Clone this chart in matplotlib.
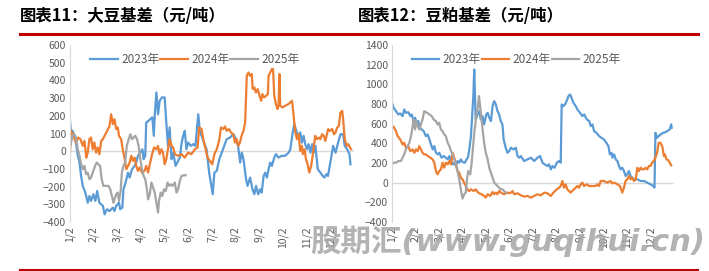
import matplotlib.pyplot as plt
from matplotlib.lines import Line2D

plt.rcParams['font.family'] = ['Noto Sans CJK SC', 'DejaVu Sans']

# x positions are in "months": 1 = 1/2, 2 = 2/2, ... 12 = 12/2
months = list(range(1, 13))
month_labels = [f'{m}/2' for m in months]
years = ['2023年', '2024年', '2025年']
colors = ['#5B9BD5', '#ED7D31', '#A5A5A5']

# ---- 大豆基差 (soybean basis) ----
soy_2023_x = [1.00, 1.04, 1.11, 1.23, 1.33, 1.40, 1.47, 1.54, 1.65, 1.75, 1.82, 1.89, 1.99, 2.07, 2.15,
              2.24, 2.39, 2.46, 2.56, 2.67, 2.81, 2.88, 2.95, 3.07, 3.12, 3.21, 3.26, 3.35, 3.45, 3.52,
              3.62, 3.73, 3.80, 3.87, 3.97, 4.06, 4.11, 4.18, 4.22, 4.32, 4.39, 4.48, 4.54, 4.58, 4.65,
              4.72, 4.79, 4.89, 5.00, 5.07, 5.14, 5.21, 5.29, 5.36, 5.46, 5.57, 5.64, 5.71, 5.78, 5.85,
              5.92, 5.99, 6.11, 6.21, 6.30, 6.42, 6.49, 6.56, 6.66, 6.77, 6.88, 6.95, 7.03, 7.10, 7.20,
              7.31, 7.41, 7.51, 7.62, 7.76, 7.90, 8.02, 8.10, 8.19, 8.26, 8.33, 8.44, 8.50, 8.61, 8.71,
              8.79, 8.86, 8.95, 9.03, 9.10, 9.18, 9.25, 9.32, 9.39, 9.46, 9.53, 9.63, 9.70, 9.81, 9.95,
              10.09, 10.24, 10.31, 10.41, 10.48, 10.56, 10.63, 10.73, 10.80, 10.87, 10.94, 11.01, 11.08,
              11.16, 11.23, 11.30, 11.37, 11.47, 11.58, 11.68, 11.75, 11.83, 11.90, 12.00, 12.12, 12.22,
              12.33, 12.43, 12.54, 12.61, 12.71, 12.81, 12.85]
soy_2023_y = [172, 106, 115, 68, -26, -64, -140, -196, -234, -291, -253, -281, -243, -281, -225,
              -291, -309, -357, -328, -338, -319, -338, -309, -291, -328, -319, -215, -177, -121, -149,
              -102, -83, -64, -26, -8, 11, -45, -26, 162, 172, 181, 191, 87, 200, 332,
              209, 285, 304, 304, 162, 30, 134, -45, -8, -83, -55, -36, 40, 87, 115,
              11, 49, 30, 40, 30, 209, 106, 87, 49, 11, -121, -177, -243, -121, -111,
              -45, -8, 30, 68, 77, 96, 68, 30, -64, -8, -45, -158, -196, -149, -215,
              -243, -196, -243, -215, -234, -140, -121, -149, -102, -64, -83, -36, -17, -36, -26,
              -26, -8, 11, 106, 153, 115, 87, 106, 49, 87, 40, 11, 40,
              -8, 40, -8, 30, -102, -121, -140, -149, -130, -140, -64, 30, -8,
              49, 96, 96, 30, 11, -17, -74]

soy_2024_x = [1.00, 1.04, 1.14, 1.25, 1.35, 1.44, 1.54, 1.61, 1.69, 1.75, 1.82, 1.89, 1.96, 2.03, 2.10,
              2.17, 2.24, 2.32, 2.39, 2.46, 2.57, 2.67, 2.74, 2.81, 2.88, 2.95, 3.02, 3.07, 3.16, 3.23,
              3.31, 3.38, 3.45, 3.52, 3.59, 3.66, 3.73, 3.80, 3.87, 3.94, 4.04, 4.15, 4.22, 4.30, 4.37,
              4.47, 4.55, 4.65, 4.72, 4.79, 4.86, 4.93, 5.00, 5.07, 5.14, 5.21, 5.29, 5.36, 5.43, 5.57,
              5.71, 5.85, 5.99, 6.13, 6.28, 6.39, 6.46, 6.56, 6.63, 6.70, 6.81, 6.91, 7.01, 7.10, 7.20,
              7.30, 7.38, 7.48, 7.55, 7.62, 7.72, 7.80, 7.90, 7.97, 8.04, 8.11, 8.18, 8.25, 8.33, 8.40,
              8.47, 8.54, 8.61, 8.68, 8.72, 8.79, 8.85, 8.93, 9.01, 9.08, 9.13, 9.20, 9.29, 9.36, 9.39,
              9.46, 9.53, 9.58, 9.63, 9.70, 9.77, 9.81, 9.85, 9.88, 9.98, 10.09, 10.23, 10.38, 10.45,
              10.52, 10.59, 10.66, 10.73, 10.80, 10.84, 10.91, 10.97, 11.04, 11.11, 11.19, 11.27, 11.36,
              11.44, 11.51, 11.58, 11.65, 11.72, 11.79, 11.91, 11.98, 12.08, 12.15, 12.22, 12.29, 12.36,
              12.43, 12.50, 12.54, 12.61, 12.69, 12.76, 12.83, 12.88]
soy_2024_y = [-8, 115, 87, 49, 77, 68, 30, 58, -36, -8, 68, 77, 11, 49, -8,
              21, -17, 58, 68, 87, 115, 143, 209, 153, 181, 125, 134, 87, 68, 11,
              -45, -102, -83, -64, -26, -55, -36, -83, -111, -92, -121, -111, -83, -121, -74,
              -17, 21, 11, 30, -17, 11, -8, -74, -45, 11, 68, 30, 21, -17, -26,
              -17, -36, -8, -17, 11, 21, 134, 125, 68, 30, -36, -55, -74, -17, 11,
              58, 134, 125, 140, 115, 125, 106, 96, 49, 68, 30, 49, 87, 115, 162,
              426, 445, 426, 436, 351, 360, 332, 351, 313, 285, 323, 304, 313, 323, 426,
              445, 464, 464, 313, 266, 238, 257, 436, 257, 247, 257, 266, 285, 200,
              106, 68, 96, 2, 30, -17, 11, -45, -74, -121, -83, -8, 87,
              68, 77, 68, 96, 87, 58, 125, 115, 125, 96, 106, 134, 143,
              219, 228, 181, 68, 30, 40, 21, 11]

soy_2025_x = [1.01, 1.11, 1.18, 1.25, 1.33, 1.40, 1.47, 1.54, 1.61, 1.68, 1.75, 1.82, 1.89, 1.96, 2.06,
              2.13, 2.20, 2.27, 2.34, 2.41, 2.49, 2.56, 2.63, 2.70, 2.77, 2.84, 2.88, 2.95, 3.02, 3.07,
              3.14, 3.19, 3.26, 3.33, 3.40, 3.48, 3.55, 3.62, 3.69, 3.76, 3.83, 3.90, 3.97, 4.04, 4.11,
              4.18, 4.25, 4.30, 4.37, 4.44, 4.51, 4.58, 4.65, 4.72, 4.76, 4.83, 4.90, 4.97, 5.05, 5.12,
              5.19, 5.26, 5.33, 5.43, 5.50, 5.57, 5.64, 5.71, 5.82, 5.89]
soy_2025_y = [30, 87, 96, 77, 11, -26, -74, -102, -83, -130, -121, -158, -149, -121, -83,
              -64, -74, -83, -158, -196, -196, -196, -196, -215, -253, -291, -272, -243, -234, -281,
              -225, -121, -83, -64, 30, 68, 96, 68, 77, 87, 68, 30, -45, -102, -140,
              -158, -215, -272, -243, -177, -205, -234, -291, -347, -281, -234, -253, -215, -225, -177,
              -196, -187, -196, -177, -234, -215, -168, -140, -136, -136]

# ---- 豆粕基差 (soybean meal basis) ----
meal_2023_x = [1.00, 1.07, 1.17, 1.27, 1.35, 1.45, 1.52, 1.59, 1.69, 1.78, 1.84, 1.92, 1.98, 2.06, 2.12,
               2.18, 2.26, 2.35, 2.44, 2.52, 2.59, 2.66, 2.73, 2.80, 2.87, 2.94, 3.01, 3.11, 3.20, 3.29,
               3.37, 3.44, 3.51, 3.58, 3.65, 3.72, 3.79, 3.86, 3.93, 4.00, 4.10, 4.17, 4.23, 4.29, 4.36,
               4.41, 4.46, 4.50, 4.56, 4.64, 4.71, 4.78, 4.85, 4.92, 5.01, 5.07, 5.14, 5.21, 5.28, 5.35,
               5.42, 5.49, 5.56, 5.63, 5.70, 5.75, 5.84, 5.91, 5.99, 6.06, 6.17, 6.27, 6.34, 6.41, 6.48,
               6.62, 6.76, 6.91, 7.05, 7.19, 7.30, 7.40, 7.50, 7.61, 7.68, 7.76, 7.83, 7.92, 8.01, 8.11,
               8.18, 8.22, 8.29, 8.36, 8.43, 8.51, 8.58, 8.64, 8.72, 8.82, 8.89, 9.00, 9.10, 9.18, 9.29,
               9.39, 9.46, 9.53, 9.60, 9.70, 9.81, 9.91, 10.02, 10.12, 10.21, 10.27, 10.34, 10.38, 10.45,
               10.52, 10.59, 10.66, 10.73, 10.80, 10.87, 10.94, 11.01, 11.08, 11.15, 11.22, 11.30, 11.44,
               11.58, 11.72, 11.86, 12.00, 12.12, 12.17, 12.21, 12.28, 12.35, 12.42, 12.54, 12.64, 12.71,
               12.82, 12.88, 12.90]
meal_2023_y = [812, 761, 727, 694, 704, 677, 744, 710, 717, 677, 694, 626, 660, 609, 626,
               558, 541, 524, 474, 490, 440, 389, 338, 372, 304, 288, 304, 254, 271, 254,
               237, 271, 220, 186, 203, 169, 220, 203, 237, 210, 203, 237, 254, 338, 474,
               677, 880, 1150, 643, 694, 727, 643, 677, 592, 694, 710, 660, 626, 778, 829,
               795, 727, 694, 626, 592, 440, 355, 304, 321, 355, 338, 355, 271, 254, 271,
               220, 237, 254, 220, 254, 271, 203, 186, 169, 186, 135, 169, 152, 203, 220,
               203, 795, 778, 795, 829, 880, 897, 863, 812, 778, 744, 710, 677, 694, 643,
               626, 575, 592, 524, 507, 474, 457, 440, 406, 372, 288, 304, 254, 288,
               237, 220, 169, 135, 152, 118, 68, 85, 118, 68, 51, 34, 34,
               17, 17, 0, -17, -34, -51, 507, 457, 474, 490, 507, 514, 524,
               541, 592, 558]

meal_2024_x = [1.00, 1.07, 1.17, 1.24, 1.35, 1.45, 1.52, 1.59, 1.69, 1.78, 1.88, 1.95, 2.02, 2.09, 2.16,
               2.23, 2.30, 2.37, 2.44, 2.52, 2.63, 2.73, 2.80, 2.87, 2.94, 3.01, 3.08, 3.15, 3.22, 3.29,
               3.37, 3.44, 3.51, 3.58, 3.65, 3.72, 3.79, 3.86, 3.93, 4.00, 4.07, 4.14, 4.22, 4.29, 4.36,
               4.47, 4.57, 4.64, 4.71, 4.81, 4.92, 4.99, 5.07, 5.18, 5.28, 5.35, 5.42, 5.49, 5.56, 5.63,
               5.77, 5.91, 6.03, 6.13, 6.20, 6.34, 6.48, 6.62, 6.76, 6.91, 7.05, 7.19, 7.34, 7.48, 7.61,
               7.76, 7.87, 8.01, 8.11, 8.18, 8.25, 8.32, 8.39, 8.46, 8.53, 8.60, 8.67, 8.75, 8.82, 8.89,
               8.96, 9.03, 9.10, 9.17, 9.29, 9.39, 9.53, 9.67, 9.74, 9.81, 9.88, 10.02, 10.16, 10.30,
               10.37, 10.47, 10.59, 10.70, 10.80, 10.87, 10.94, 11.01, 11.08, 11.15, 11.22, 11.30, 11.37,
               11.44, 11.51, 11.58, 11.65, 11.72, 11.79, 11.86, 11.93, 12.00, 12.07, 12.14, 12.21, 12.28,
               12.35, 12.42, 12.50, 12.57, 12.61, 12.68, 12.75, 12.82, 12.88]
meal_2024_y = [568, 568, 524, 474, 440, 389, 406, 355, 372, 321, 338, 304, 338, 321, 372,
               338, 304, 288, 288, 271, 254, 237, 203, 118, 85, 118, 135, 203, 152, 203,
               186, 220, 186, 304, 254, 186, 118, 101, 51, 34, 0, -34, -74, -85, -68,
               -85, -68, -95, -108, -118, -135, -152, -118, -135, -95, -118, -101, -118, -85, -101,
               -118, -101, -108, -85, -118, -108, -128, -142, -135, -152, -135, -118, -128, -101, -108,
               -135, -101, -68, -51, -34, 17, -51, -17, -68, -85, -101, -85, -68, -51, -34,
               -51, -17, 0, -34, -17, -34, -34, -34, -17, -34, 17, 17, 0, 17,
               -7, 0, -17, -34, -101, -51, 17, 34, 68, 34, 51, 17, 34,
               152, 118, 152, 135, 135, 152, 135, 169, 169, 203, 220, 254, 304,
               406, 406, 372, 271, 288, 237, 230, 203, 176]

meal_2025_x = [1.00, 1.07, 1.17, 1.27, 1.38, 1.45, 1.52, 1.59, 1.67, 1.74, 1.81, 1.88, 1.92, 1.98, 2.03,
               2.09, 2.16, 2.23, 2.30, 2.37, 2.49, 2.59, 2.69, 2.77, 2.87, 2.94, 3.01, 3.08, 3.15, 3.22,
               3.29, 3.37, 3.44, 3.51, 3.58, 3.65, 3.72, 3.79, 3.86, 3.93, 4.00, 4.07, 4.14, 4.19, 4.24,
               4.29, 4.33, 4.39, 4.44, 4.50, 4.57, 4.64, 4.70, 4.75, 4.81, 4.87, 4.92, 4.99, 5.07, 5.14,
               5.21, 5.28, 5.35, 5.42, 5.49, 5.56, 5.63, 5.70, 5.77, 5.84]
meal_2025_y = [186, 203, 203, 220, 220, 254, 288, 338, 372, 406, 474, 575, 643, 541, 626,
               575, 541, 592, 643, 727, 710, 694, 677, 643, 626, 592, 609, 541, 524, 491,
               474, 406, 372, 321, 288, 237, 186, 118, 34, -68, -162, -118, -101, 34, 118,
               101, 85, 203, 338, 507, 643, 744, 880, 778, 643, 507, 406, 304, 237, 152,
               101, 51, 0, -17, -34, -51, -68, -68, -85, -101]

fig = plt.figure(figsize=(7.09, 2.71), dpi=100)

red = '#C00000'
fig.add_artist(Line2D([20 / 709, 698 / 709], [1 - 34 / 271, 1 - 34 / 271], color=red, lw=2.2))
fig.add_artist(Line2D([20 / 709, 698 / 709], [1 - 269.5 / 271, 1 - 269.5 / 271], color=red, lw=1.5))

fig.text(20 / 709, 1 - 16 / 271, '图表11：大豆基差（元/吨）', fontsize=11.8, fontweight='bold',
         va='center', ha='left', color='black')
fig.text(358 / 709, 1 - 16 / 271, '图表12：豆粕基差（元/吨）', fontsize=11.8, fontweight='bold',
         va='center', ha='left', color='black')

panels = [
    ([70 / 709, 49 / 271, 284 / 709, 177 / 271], (-400, 600), 100,
     [(soy_2023_x, soy_2023_y), (soy_2024_x, soy_2024_y), (soy_2025_x, soy_2025_y)]),
    ([392 / 709, 49 / 271, 282 / 709, 177 / 271], (-400, 1400), 200,
     [(meal_2023_x, meal_2023_y), (meal_2024_x, meal_2024_y), (meal_2025_x, meal_2025_y)]),
]

tick_color = '#595959'
for rect, ylim, step, series in panels:
    ax = fig.add_axes(rect)
    ax.axhline(0, color='#D9D9D9', lw=1, zorder=1)
    for (xs, ys), c, lab in zip(series, colors, years):
        ax.plot(xs, ys, color=c, lw=1.6, label=lab, zorder=2)
    ax.set_xlim(1, 13)
    ax.set_ylim(*ylim)
    ax.set_yticks(range(ylim[0], ylim[1] + 1, step))
    ax.set_xticks(months)
    ax.set_xticklabels(month_labels, rotation=90)
    ax.tick_params(axis='both', length=0, labelsize=7.5, labelcolor=tick_color, pad=3)
    for s in ['top', 'right', 'bottom']:
        ax.spines[s].set_visible(False)
    ax.spines['left'].set_color('#D9D9D9')
    ax.patch.set_alpha(0)
    ax.legend(loc='upper center', bbox_to_anchor=(0.44, 1.0), ncol=3, frameon=False,
              fontsize=8.5, labelcolor=tick_color, handlelength=2.3, handletextpad=0.3,
              columnspacing=0.1, borderaxespad=0.3)

# watermark
fig.text(310 / 709, 1 - 241 / 271, '股期汇(www.guqihui.cn)', fontsize=22, fontweight='heavy',
         style='italic', family=['DejaVu Sans', 'Noto Sans CJK SC'],
         color='#A6A6A6', alpha=0.85, ha='left', va='center', zorder=10)

fig.savefig('out.png', dpi=100)
